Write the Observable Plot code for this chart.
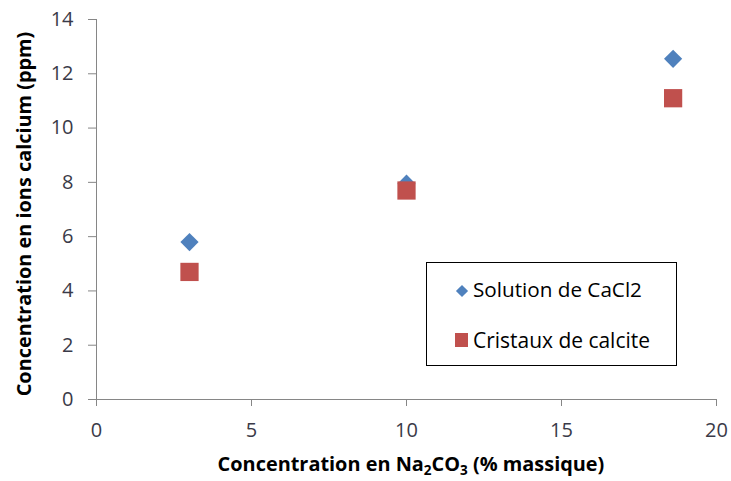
<!DOCTYPE html>
<html><head><meta charset="utf-8">
<script src="https://cdn.jsdelivr.net/npm/d3@7"></script>
<script src="https://cdn.jsdelivr.net/npm/@observablehq/plot@0.6"></script>
<style>body{margin:0;background:#fff}</style>
</head><body><div id="chart"></div>
<script>
const concentrationNa2CO3 = [3, 10, 18.6];
const solutionCaCl2 = [5.8, 7.95, 12.55];
const cristauxCalcite = [4.7, 7.7, 11.1];
const seriesNames = ["Solution de CaCl2", "Cristaux de calcite"];
const seriesColors = ["#4F81BD", "#C0504D"];
const xTicks = [0, 5, 10, 15, 20];
const yTicks = [0, 2, 4, 6, 8, 10, 12, 14];

const dataA = concentrationNa2CO3.map((x, i) => ({x, y: solutionCaCl2[i]}));
const dataB = concentrationNa2CO3.map((x, i) => ({x, y: cristauxCalcite[i]}));

const FONT = "'Open Sans', Lato, sans-serif";
const axisColor = "#868686";
const tickColor = "#3a3a48";

const chart = Plot.plot({
  width: 731, height: 481,
  marginLeft: 96, marginRight: 15, marginTop: 19, marginBottom: 82,
  style: {fontFamily: FONT, fontSize: "20px", color: tickColor, background: "#fff"},
  x: {domain: [0, 20], ticks: xTicks, label: null},
  y: {domain: [0, 14], ticks: yTicks, label: null},
  marks: [
    Plot.ruleY([0], {stroke: axisColor}),
    Plot.ruleX([0], {stroke: axisColor}),
    Plot.axisX({ticks: xTicks, tickSize: 7, tickPadding: 16, stroke: axisColor, fill: tickColor, label: null, fontSize: 20}),
    Plot.axisY({ticks: yTicks, tickSize: 8, tickPadding: 15, stroke: axisColor, fill: tickColor, label: null, fontSize: 20}),
    Plot.dot(dataA, {x: "x", y: "y", symbol: "diamond2", r: 8.2, fill: seriesColors[0], stroke: "none"}),
    Plot.dot(dataB, {x: "x", y: "y", symbol: "square", r: 10.3, fill: seriesColors[1], stroke: "none"})
  ]
});
document.getElementById("chart").appendChild(chart);

const svg = d3.select(chart);

function fitWidth(sel, target) {
  const node = sel.node();
  const w = node.getBBox().width;
  const fs = parseFloat(sel.style("font-size"));
  if (w > 0) sel.style("font-size", (fs * target / w).toFixed(2) + "px");
}

// X axis title with subscripts
const xt = svg.append("text")
  .attr("x", 411).attr("y", 471)
  .attr("text-anchor", "middle")
  .style("font-family", FONT).style("font-weight", "bold").style("font-size", "19px").attr("fill", "#000");
xt.append("tspan").text("Concentration en Na");
xt.append("tspan").attr("dy", 4).style("font-size", "0.68em").text("2");
xt.append("tspan").attr("dy", -4).text("CO");
xt.append("tspan").attr("dy", 4).style("font-size", "0.68em").text("3");
xt.append("tspan").attr("dy", -4).text(" (% massique)");
fitWidth(xt, 387);

// Y axis title
const yt = svg.append("text")
  .attr("transform", "translate(31,214) rotate(-90)")
  .attr("text-anchor", "middle")
  .style("font-family", FONT).style("font-weight", "bold").style("font-size", "19px").attr("fill", "#000")
  .text("Concentration en ions calcium (ppm)");
fitWidth(yt, 365);

// Legend
const lg = svg.append("g");
lg.append("rect").attr("x", 426.5).attr("y", 262.5).attr("width", 250).attr("height", 103)
  .attr("fill", "#fff").attr("stroke", "#000").attr("stroke-width", 1);
lg.append("path").attr("d", d3.symbol(d3.symbolDiamond2, 95)()).attr("transform", "translate(462,291)").attr("fill", seriesColors[0]);
lg.append("rect").attr("x", 455).attr("y", 333).attr("width", 13).attr("height", 14).attr("fill", seriesColors[1]);
const legendTargets = [169, 177];
seriesNames.forEach((name, i) => {
  const t = lg.append("text").attr("x", 473).attr("y", i === 0 ? 297 : 348)
    .attr("text-anchor", "start")
    .style("font-family", FONT).style("font-size", "20px").attr("fill", "#000").text(name);
  fitWidth(t, legendTargets[i]);
});
</script>
</body></html>
